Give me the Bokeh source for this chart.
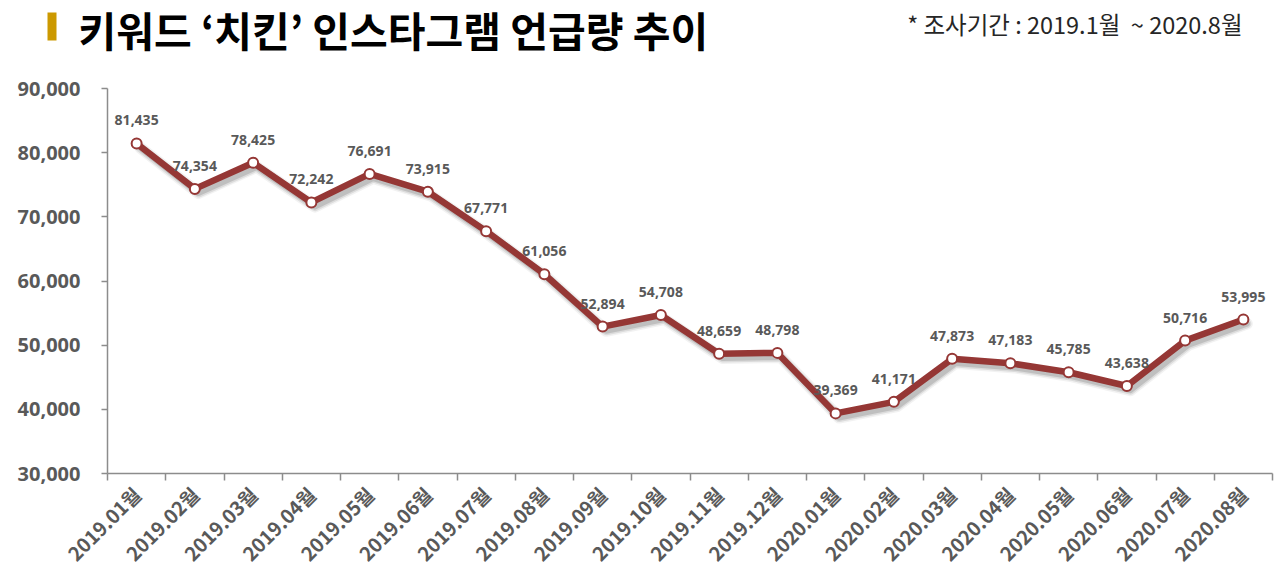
import numpy as np
from bokeh.plotting import figure
from bokeh.layouts import column
from bokeh.models import (Range1d, FixedTicker, NumeralTickFormatter, ColumnDataSource,
                          LinearAxis)
from bokeh.core.properties import value
from bokeh.embed import file_html
from bokeh.resources import INLINE

months = ["2019.01월", "2019.02월", "2019.03월", "2019.04월", "2019.05월", "2019.06월",
          "2019.07월", "2019.08월", "2019.09월", "2019.10월", "2019.11월", "2019.12월",
          "2020.01월", "2020.02월", "2020.03월", "2020.04월", "2020.05월", "2020.06월",
          "2020.07월", "2020.08월"]
mentions = [81435, 74354, 78425, 72242, 76691, 73915, 67771, 61056, 52894, 54708,
            48659, 48798, 39369, 41171, 47873, 47183, 45785, 43638, 50716, 53995]
y_ticks = [30000, 40000, 50000, 60000, 70000, 80000, 90000]

title_text = "키워드 \u2018치킨\u2019 인스타그램 언급량 추이"
subtitle_text = "* 조사기간 : 2019.1월\u00a0\u00a0~ 2020.8월"

LINE = "#953735"
GREY_TXT = "#595959"
AXIS = "#8c8c8c"
NUMFONT = "Open Sans"
KFONT = "Noto Sans CJK KR"
W = 1280
HEAD_H = 70
CHART_H = 517

# ---------- header (title) ----------
head = figure(width=W, height=HEAD_H, output_backend="svg", toolbar_location=None,
              x_range=Range1d(0, W), y_range=Range1d(0, HEAD_H),
              min_border=0, x_axis_type=None, y_axis_type=None)
head.frame_align = False
head.outline_line_color = None
head.grid.grid_line_color = None
head.quad(left=[47], right=[56], bottom=[30], top=[58], fill_color="#CC9900",
          line_color=None)
head.text(x=[78], y=[42], text=[title_text], text_font=value(KFONT),
          text_font_size="41px", text_font_style="bold", text_color="black",
          text_baseline="middle", text_align="left")
head.text(x=[1242], y=[47], text=[subtitle_text], text_font=value(KFONT),
          text_font_size="23.5px", text_color="#262626",
          text_baseline="middle", text_align="right")

# ---------- chart ----------
n = len(months)
xpos = np.arange(n) + 0.5
vals = np.array(mentions, dtype=float)

src = ColumnDataSource(dict(x=xpos, y=vals, lab=[f"{v:,}" for v in mentions]))
shadow = ColumnDataSource(dict(x=xpos + 0.06, y=vals - 650))

p = figure(width=W, height=CHART_H, output_backend="svg", toolbar_location=None,
           x_range=Range1d(0, n), y_range=Range1d(y_ticks[0], y_ticks[-1]),
           min_border_left=107, min_border_right=8, min_border_top=18,
           min_border_bottom=114, x_axis_type=None)
p.frame_align = False
p.outline_line_color = None
p.grid.grid_line_color = None

xaxis = LinearAxis(ticker=FixedTicker(ticks=list(xpos), minor_ticks=list(range(n + 1))),
                   major_label_overrides={float(x): m for x, m in zip(xpos, months)})
xaxis.major_label_orientation = np.pi / 4
xaxis.major_tick_out = 0
xaxis.major_tick_in = 0
xaxis.minor_tick_out = 7
xaxis.minor_tick_in = 0
xaxis.minor_tick_line_color = AXIS
xaxis.minor_tick_line_width = 1.5
xaxis.axis_line_color = AXIS
xaxis.axis_line_width = 1.5
xaxis.major_label_text_font = KFONT
xaxis.major_label_text_font_size = "19.5px"
xaxis.major_label_text_font_style = "bold"
xaxis.major_label_text_color = GREY_TXT
xaxis.major_label_standoff = 10
p.add_layout(xaxis, "below")

ya = p.yaxis[0]
ya.ticker = FixedTicker(ticks=y_ticks)
ya.formatter = NumeralTickFormatter(format="0,0")
ya.major_tick_out = 6
ya.major_tick_in = 0
ya.minor_tick_line_color = None
ya.axis_line_color = AXIS
ya.axis_line_width = 1.5
ya.major_tick_line_color = AXIS
ya.major_tick_line_width = 1.5
ya.major_label_text_font = NUMFONT
ya.major_label_text_font_size = "20px"
ya.major_label_text_font_style = "bold"
ya.major_label_text_color = GREY_TXT
ya.major_label_standoff = 21

for w, a in [(12, 0.05), (9, 0.09), (6, 0.13)]:
    p.line("x", "y", source=shadow, line_color="black", line_alpha=a, line_width=w,
           line_join="round", line_cap="round")
p.line("x", "y", source=src, line_color=LINE, line_width=6.5, line_join="round")
p.scatter("x", "y", source=src, size=10, fill_color="white", line_color=LINE, line_width=2)
p.text("x", "y", text="lab", source=src, text_align="center", text_baseline="bottom",
       y_offset=-18, text_font=value(NUMFONT), text_font_size="14px",
       text_font_style="bold", text_color=GREY_TXT)

layout = column(head, p, spacing=0)
open("out.html", "w").write(file_html(layout, INLINE))
